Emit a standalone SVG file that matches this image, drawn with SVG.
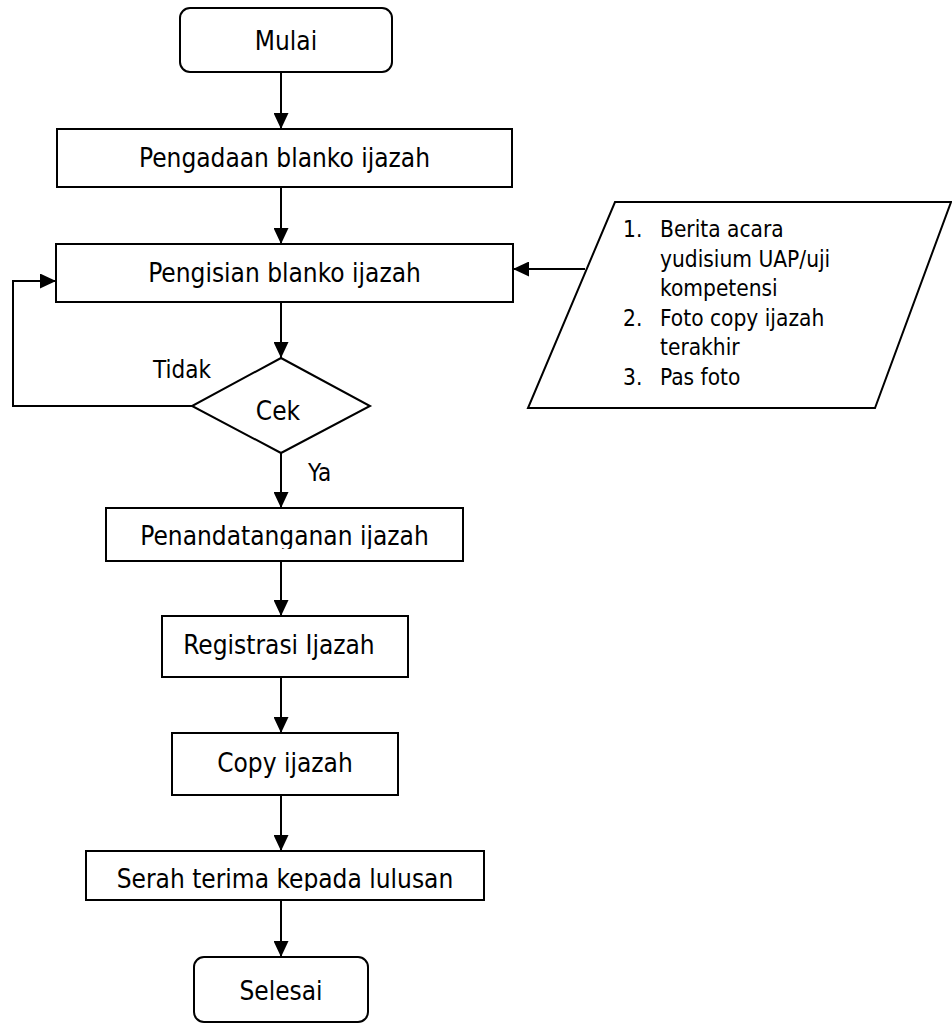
<svg xmlns="http://www.w3.org/2000/svg" width="952" height="1023" viewBox="0 0 952 1023">
  <style>
    .shape { fill: #ffffff; stroke: #000000; stroke-width: 2; }
    .line { fill: none; stroke: #000000; stroke-width: 2; }
    text { font-family: "DejaVu Sans Condensed", "DejaVu Sans", sans-serif; fill: #000000; }
    .t { font-size: 26px; text-anchor: middle; }
    .lbl { font-size: 24px; }
    .doc { font-size: 22.5px; }
  </style>
  <defs>
    <marker id="arrow" markerUnits="userSpaceOnUse" markerWidth="16" markerHeight="15" refX="16" refY="7.5" orient="auto">
      <path d="M0,0 L16,7.5 L0,15 Z" fill="#000000"/>
    </marker>
    <clipPath id="clipTtd"><rect x="106" y="508" width="357" height="41"/></clipPath>
    <clipPath id="clipSerah"><rect x="86" y="851" width="398" height="40"/></clipPath>
  </defs>

  <!-- connectors -->
  <g id="connectors">
    <line class="line" x1="281" y1="72" x2="281" y2="129" marker-end="url(#arrow)"/>
    <line class="line" x1="281" y1="187" x2="281" y2="244" marker-end="url(#arrow)"/>
    <line class="line" x1="281" y1="302" x2="281" y2="358" marker-end="url(#arrow)"/>
    <polyline class="line" points="192,406 13,406 13,281 56,281" marker-end="url(#arrow)"/>
    <line class="line" x1="585" y1="269" x2="513" y2="269" marker-end="url(#arrow)"/>
    <line class="line" x1="281" y1="453" x2="281" y2="508" marker-end="url(#arrow)"/>
    <line class="line" x1="281" y1="561" x2="281" y2="616" marker-end="url(#arrow)"/>
    <line class="line" x1="281" y1="677" x2="281" y2="733" marker-end="url(#arrow)"/>
    <line class="line" x1="281" y1="795" x2="281" y2="851" marker-end="url(#arrow)"/>
    <line class="line" x1="281" y1="900" x2="281" y2="957" marker-end="url(#arrow)"/>
    <text class="lbl" x="153" y="378">Tidak</text>
    <text class="lbl" x="308" y="481">Ya</text>
  </g>

  <g id="mulai">
    <rect class="shape" x="180" y="8" width="212" height="64" rx="10"/>
    <text class="t" x="286" y="50">Mulai</text>
  </g>

  <g id="pengadaan">
    <rect class="shape" x="57" y="129" width="455" height="58"/>
    <text class="t" x="284.5" y="167">Pengadaan blanko ijazah</text>
  </g>

  <g id="pengisian">
    <rect class="shape" x="56" y="244" width="457" height="58"/>
    <text class="t" x="284.5" y="282">Pengisian blanko ijazah</text>
  </g>

  <g id="dokumen">
    <polygon class="shape" points="615,202 951,202 875,408 528,408"/>
    <text class="doc" x="623" y="237">1.</text>
    <text class="doc" x="660" y="237">Berita acara</text>
    <text class="doc" x="660" y="266.6">yudisium UAP/uji</text>
    <text class="doc" x="660" y="296.2">kompetensi</text>
    <text class="doc" x="623" y="325.8">2.</text>
    <text class="doc" x="660" y="325.8">Foto copy ijazah</text>
    <text class="doc" x="660" y="355.4">terakhir</text>
    <text class="doc" x="623" y="385">3.</text>
    <text class="doc" x="660" y="385">Pas foto</text>
  </g>

  <g id="cek">
    <polygon class="shape" points="281,358 370,406 281,453 192,406"/>
    <text class="t" x="278" y="420">Cek</text>
  </g>

  <g id="penandatanganan">
    <rect class="shape" x="106" y="508" width="357" height="53"/>
    <text class="t" x="284.5" y="545" clip-path="url(#clipTtd)">Penandatanganan ijazah</text>
  </g>

  <g id="registrasi">
    <rect class="shape" x="162" y="616" width="246" height="61"/>
    <text class="t" x="279" y="654">Registrasi Ijazah</text>
  </g>

  <g id="copy">
    <rect class="shape" x="172" y="733" width="226" height="62"/>
    <text class="t" x="285" y="772">Copy ijazah</text>
  </g>

  <g id="serah">
    <rect class="shape" x="86" y="851" width="398" height="49"/>
    <text class="t" x="285" y="888" clip-path="url(#clipSerah)">Serah terima kepada lulusan</text>
  </g>

  <g id="selesai">
    <rect class="shape" x="194" y="957" width="174" height="65" rx="10"/>
    <text class="t" x="281" y="1000">Selesai</text>
  </g>
</svg>
